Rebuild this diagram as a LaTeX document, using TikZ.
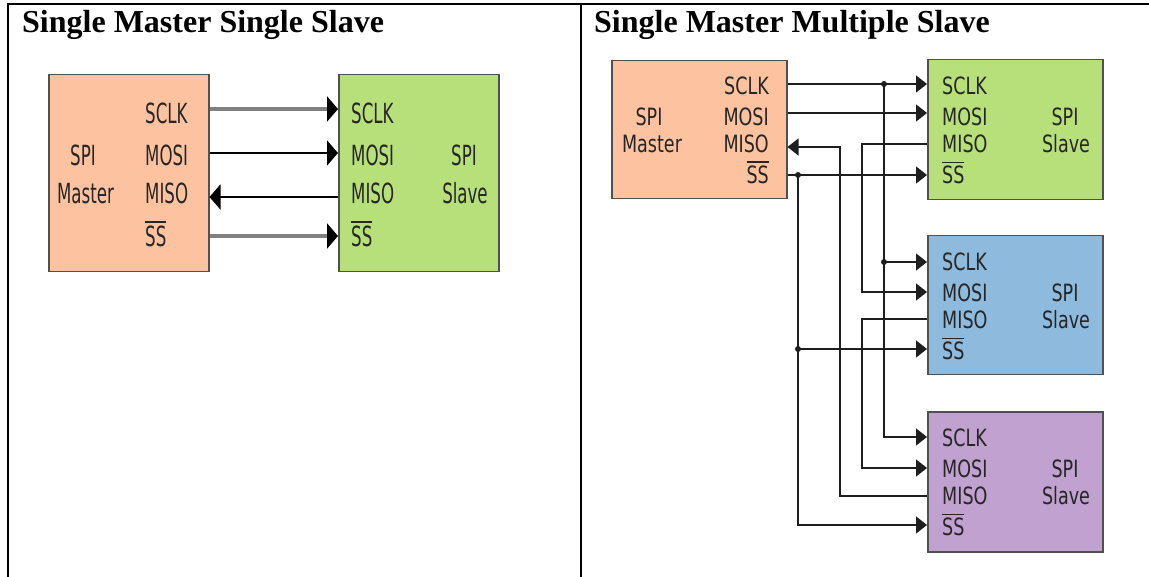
\documentclass[tikz,border=0pt]{standalone}
\usepackage{fontspec}
\usepackage{graphicx}
\setmainfont{Liberation Serif}
\newfontfamily\pinfont{DejaVu Sans Condensed}
\usetikzlibrary{arrows.meta,calc}

\definecolor{mastercol}{RGB}{253,195,160}
\definecolor{greencol}{RGB}{184,224,122}
\definecolor{bluecol}{RGB}{142,186,221}
\definecolor{purplecol}{RGB}{192,161,208}
\definecolor{edgecol}{RGB}{80,80,80}
\definecolor{wirecol}{RGB}{30,30,30}

\newcommand\ssbar{\setbox0\hbox{SS}\rlap{\rule[0.86em]{\wd0}{0.07em}}SS}
\newcommand\lp[1]{\scalebox{1}[1.5]{\pinfont\fontsize{18.5}{20}\selectfont #1}}
\newcommand\rp[1]{\scalebox{1}[1.22]{\pinfont\fontsize{19.5}{21}\selectfont #1}}

\tikzset{
  chip/.style={draw=edgecol, line width=1.5pt, inner sep=0pt, anchor=north west},
  pin/.style={inner sep=0pt, text=black!85},
  ttl/.style={anchor=base west, inner sep=0pt, font=\bfseries\fontsize{32}{36}\selectfont},
  frame/.style={line width=2pt, black},
  lwire/.style={line width=2pt, black},
  lgwire/.style={line width=3.5pt, black!50},
  ltip/.style={-{Triangle[length=11pt,width=25pt,color=black]}},
  ltipb/.style={{Triangle[length=11pt,width=25pt,color=black]}-},
  rwire/.style={line width=1.4pt, wirecol},
  rtip/.style={-{Triangle[length=11pt,width=17pt]}},
  rtipb/.style={{Triangle[length=11pt,width=17pt]}-},
  jdot/.style={circle, fill=wirecol, inner sep=0pt, minimum size=6pt},
}

\begin{document}
\begin{tikzpicture}[x=1pt,y=-1pt]
\useasboundingbox (0,0) rectangle (1149,577);
\fill[white] (0,0) rectangle (1149,577);

% frame
\draw[frame] (8,577) -- (8,4.5) -- (1149,4.5);
\draw[frame] (580.5,4.5) -- (580.5,577);

% titles
\node[ttl] (t1) at (22,33) {Single Master Single Slave};
\node[ttl] (t2) at (594,33) {Single Master Multiple Slave};

% ===== left panel =====
\node[chip, fill=mastercol, minimum width=160pt, minimum height=197pt] (LM) at (48,74) {};
\node[chip, fill=greencol, minimum width=160pt, minimum height=197pt] (LS) at (338,74) {};

\node[pin] (lmspi) at (83,155) {\lp{SPI}};
\node[pin] (lmmas) at (85.5,193.5) {\lp{Master}};
\node[pin, anchor=west] (lmsclk) at (145,113.5) {\lp{SCLK}};
\node[pin, anchor=west] (lmmosi) at (145,155) {\lp{MOSI}};
\node[pin, anchor=west] (lmmiso) at (145,193.5) {\lp{MISO}};
\node[pin, anchor=west] (lmss) at (145,234) {\lp{\ssbar}};

\node[pin] (lsspi) at (464,155) {\lp{SPI}};
\node[pin] (lssla) at (465,193.5) {\lp{Slave}};
\node[pin, anchor=west] (lssclk) at (351,113.5) {\lp{SCLK}};
\node[pin, anchor=west] (lsmosi) at (351,155) {\lp{MOSI}};
\node[pin, anchor=west] (lsmiso) at (351,193.5) {\lp{MISO}};
\node[pin, anchor=west] (lsss) at (351,234) {\lp{\ssbar}};

\draw[lgwire, ltip] (LM.east |- 0,109) -- (LS.west |- 0,109);
\draw[lwire, ltip] (LM.east |- 0,153) -- (LS.west |- 0,153);
\draw[lwire, ltipb] (LM.east |- 0,197) -- (LS.west |- 0,197);
\draw[lgwire, ltip] (LM.east |- 0,236) -- (LS.west |- 0,236);

% ===== right panel =====
\node[chip, fill=mastercol, minimum width=175pt, minimum height=138pt] (RM) at (611,60) {};
\node[chip, fill=greencol, minimum width=175pt, minimum height=140pt] (S1) at (927,59) {};
\node[chip, fill=bluecol, minimum width=175pt, minimum height=139pt] (S2) at (927,235) {};
\node[chip, fill=purplecol, minimum width=175pt, minimum height=140pt] (S3) at (927,411) {};

\node[pin] (rmspi) at (649,117) {\rp{SPI}};
\node[pin] (rmmas) at (652,144) {\rp{Master}};
\node[pin, anchor=east] (rmsclk) at (769,86) {\rp{SCLK}};
\node[pin, anchor=east] (rmmosi) at (769,117) {\rp{MOSI}};
\node[pin, anchor=east] (rmmiso) at (769,144) {\rp{MISO}};
\node[pin, anchor=east] (rmss) at (769,172.5) {\rp{\ssbar}};

\foreach \s/\y in {S1/59, S2/235, S3/411} {
  \node[pin] (\s spi) at (1065,\y+58) {\rp{SPI}};
  \node[pin] (\s sla) at (1066,\y+85) {\rp{Slave}};
  \node[pin, anchor=west] (\s sclk) at (942,\y+27) {\rp{SCLK}};
  \node[pin, anchor=west] (\s mosi) at (942,\y+58) {\rp{MOSI}};
  \node[pin, anchor=west] (\s miso) at (942,\y+85) {\rp{MISO}};
  \node[pin, anchor=west] (\s ss) at (942,\y+114) {\rp{\ssbar}};
}

% junction coordinates
\coordinate (jc) at (884,84);
\coordinate (jc2) at (884,262);
\coordinate (js) at (798,175);
\coordinate (js2) at (798,349);

% SCLK bus
\draw[rwire, rtip] (RM.east |- jc) -- (S1.west |- jc);
\draw[rwire, rtip] (jc) -- (jc |- 0,437) -- (S3.west |- 0,437);
\draw[rwire, rtip] (jc2) -- (S2.west |- jc2);
% MOSI
\draw[rwire, rtip] (RM.east |- 0,113) -- (S1.west |- 0,113);
% daisy chain MISO -> MOSI
\draw[rwire, rtip] (S1.west |- 0,144) -- (862,144) -- (862,292) -- (S2.west |- 0,292);
\draw[rwire, rtip] (S2.west |- 0,319) -- (862,319) -- (862,468) -- (S3.west |- 0,468);
% last MISO back to master
\draw[rwire, rtipb] (RM.east |- 0,147) -- (840,147) -- (840,496) -- (S3.west |- 0,496);
% SS
\draw[rwire, rtip] (RM.east |- js) -- (S1.west |- js);
\draw[rwire, rtip] (js) -- (js |- 0,525) -- (S3.west |- 0,525);
\draw[rwire, rtip] (js2) -- (S2.west |- js2);

\node[jdot] (d1) at (jc) {};
\node[jdot] (d2) at (jc2) {};
\node[jdot] (d3) at (js) {};
\node[jdot] (d4) at (js2) {};
\end{tikzpicture}
\end{document}
